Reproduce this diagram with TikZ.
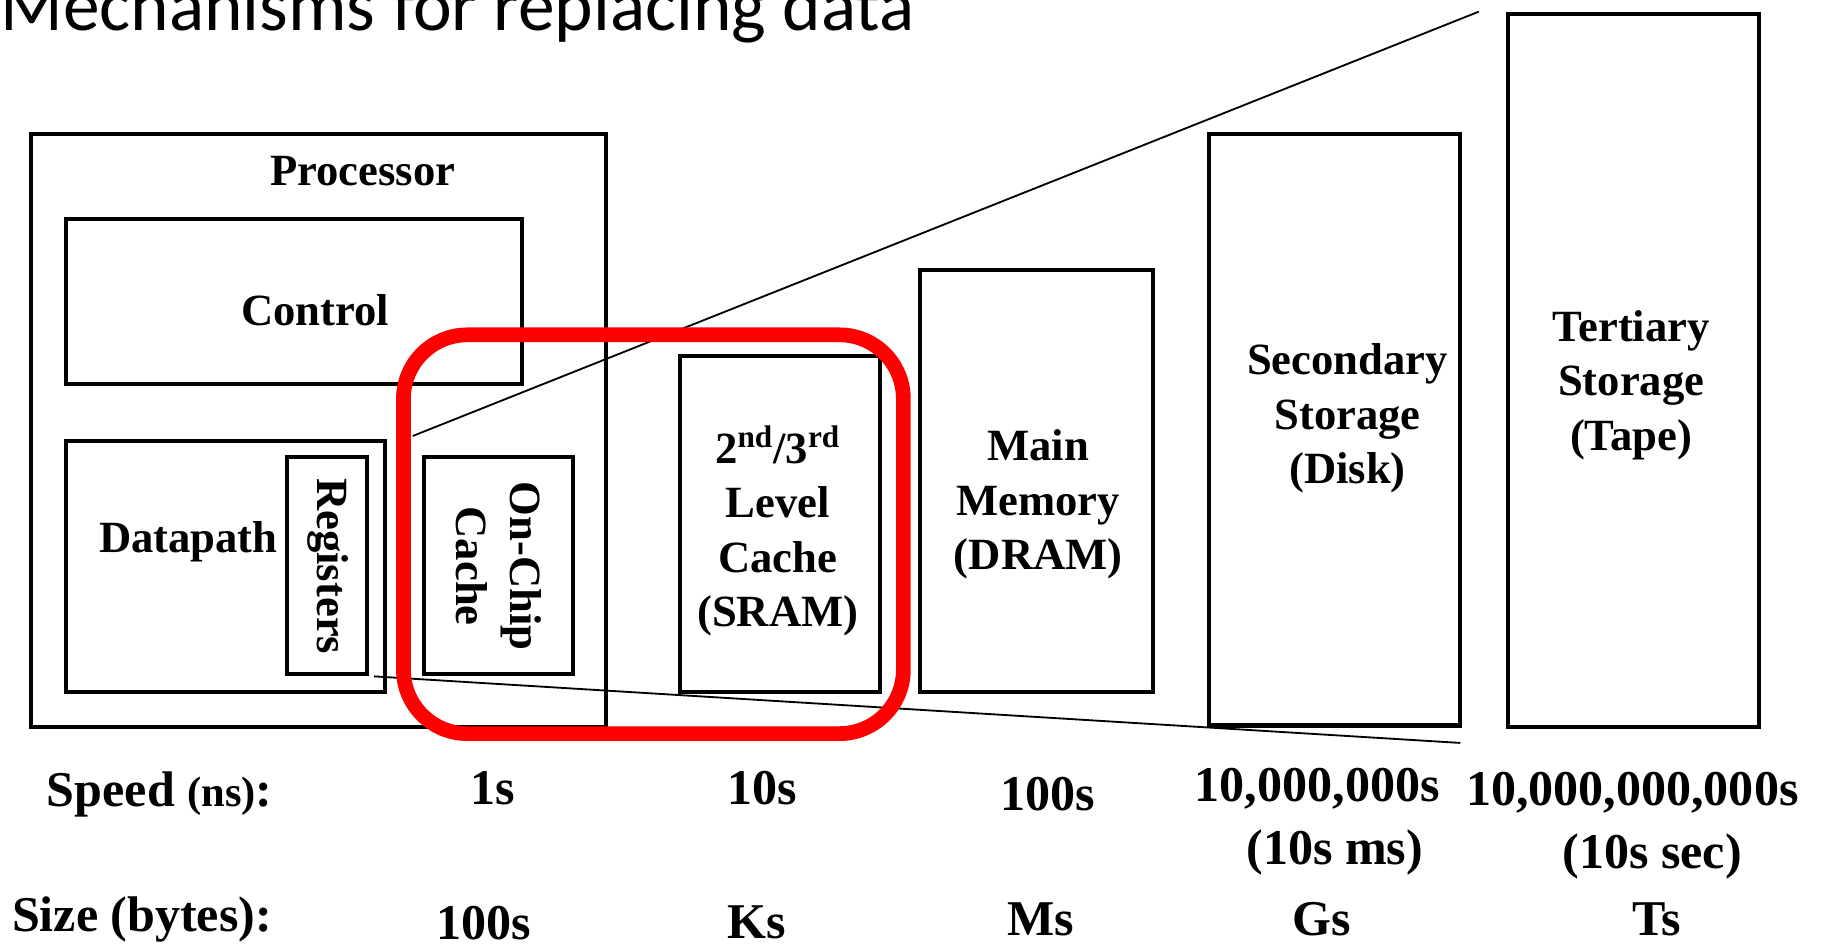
\documentclass[tikz,border=0pt]{standalone}
\usepackage{fontspec}
\setmainfont{Liberation Serif}
\newfontfamily\titlefont{Carlito}
\usetikzlibrary{fit}
\begin{document}
\begin{tikzpicture}[x=0.2mm,y=-0.2mm,
  box/.style={draw, line width=2pt, inner sep=0pt},
  lbl/.style={font=\fontsize{21.85}{26.7}\selectfont\bfseries, align=center, inner sep=0pt},
  row/.style={font=\fontsize{24.5}{31.3}\selectfont\bfseries, align=center, inner sep=0pt},
  zoomline/.style={line width=0.9pt},
  hilite/.style={draw=red, line width=7.2pt, rounded corners=11mm, inner sep=0pt}]
\useasboundingbox (0,0) rectangle (1568,815);
\clip (0,0) rectangle (1568,815);

% heading
\node[anchor=base west, inner sep=0pt, font=\titlefont\fontsize{35.9}{40}\selectfont] (title) at (0,26) {Mechanisms for replacing data};

% processor and its parts
\node[box, fit={(27,115) (521,625)}] (proc) {};
\node[lbl] (proclbl) at (312,147) {Processor};
\node[box, fit={(57,188) (449,330)}] (ctrl) {};
\node[lbl] (ctrllbl) at (271,267) {Control};
\node[box, fit={(57,379) (331,595)}] (dp) {};
\node[lbl] (dplbl) at (162,466) {Datapath};
\node[box, fit={(247,393) (316,580)}] (reg) {};
\node[lbl, rotate=-90] (reglbl) at (282,487) {Registers};
\node[box, fit={(365,393) (493,580)}] (l1) {};
\node[lbl, rotate=-90] (l1lbl) at (429,487) {On-Chip\\Cache};

% memory levels
\node[box, fit={(585,306) (757,595)}] (l2) {};
\node[lbl] (l2lbl) at (669,457) {2\textsuperscript{nd}/3\textsuperscript{rd}\\Level\\Cache\\(SRAM)};
\node[box, fit={(791,232) (992,595)}] (dram) {};
\node[lbl] (dramlbl) at (893,434) {Main\\Memory\\(DRAM)};
\node[box, fit={(1040,115) (1256,624)}] (disk) {};
\node[lbl] (disklbl) at (1159,360) {Secondary\\Storage\\(Disk)};
\node[box, fit={(1297,12) (1513,625)}] (tape) {};
\node[lbl] (tapelbl) at (1403,331) {Tertiary\\Storage\\(Tape)};

% zoom-out lines
\coordinate (upA) at (355,375);
\coordinate (upB) at (1272,10);
\coordinate (loB) at (1256,639);
\draw[zoomline] (upA) -- (upB);
\draw[zoomline] ([xshift=4*0.2mm]reg.south east) -- (loB);

% highlighted cache levels
\node[hilite, fit={(347,288) (777,631)}] (focus) {};

% speed row
\node[row, anchor=west] (speed) at (40,683) {Speed {\fontsize{20.8}{25}\selectfont(ns)}:};
\node[row] (s1) at (424,678) {1s};
\node[row] (s2) at (656,678) {10s};
\node[row] (s3) at (901,683) {100s};
\node[row] (s4) at (1133,678) {10,000,000s};
\node[row] (s4b) at (1148,733) {(10s ms)};
\node[row] (s5) at (1404,682) {10,000,000,000s};
\node[row] (s5b) at (1421,737) {(10s sec)};

% size row
\node[row, anchor=west] (size) at (10,791) {Size (bytes):};
\node[row] (z1) at (416,794) {100s};
\node[row] (z2) at (651,793) {Ks};
\node[row] (z3) at (895,791) {Ms};
\node[row] (z4) at (1137,791) {Gs};
\node[row] (z5) at (1425,791) {Ts};
\end{tikzpicture}
\end{document}
